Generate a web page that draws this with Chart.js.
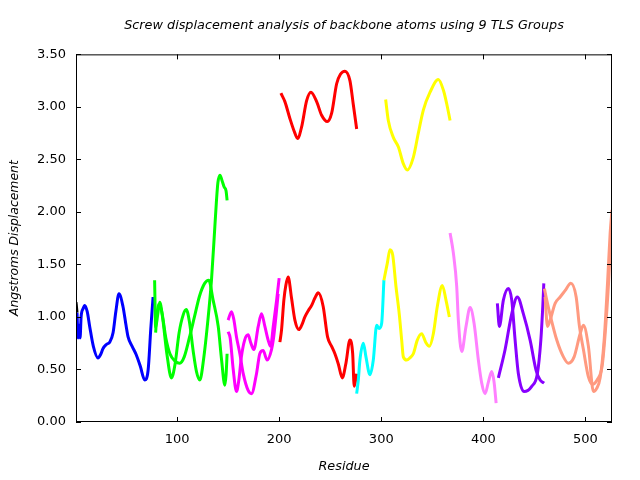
<!DOCTYPE html>
<html>
<head>
<meta charset="utf-8">
<title>Screw displacement analysis</title>
<script src="https://cdn.jsdelivr.net/npm/chart.js@4.4.1/dist/chart.umd.min.js"></script>
<style>
  html, body { margin: 0; padding: 0; background: #ffffff; }
</style>
</head>
<body>
<canvas id="screw-chart" width="640" height="480"></canvas>
<script>
// Screw displacement per residue, one pair of arrays per traced curve

const blackRes = [1, 2];
const blackDisp = [1.14, 1.04];

const blueRes = [2, 3, 4, 5, 6, 8, 9.5, 12, 14.4, 18, 22.5, 25, 27.5, 31, 34, 37.3, 40, 43.1, 47, 50, 52, 56, 60, 64, 68.3, 71.6, 74.2, 76.5];
const blueDisp = [1.04, 0.80, 0.92, 0.80, 1.00, 1.08, 1.11, 1.05, 0.91, 0.72, 0.61, 0.64, 0.70, 0.74, 0.76, 0.85, 1.05, 1.22, 1.10, 0.92, 0.81, 0.72, 0.64, 0.53, 0.40, 0.49, 0.88, 1.19];

const greenRes1 = [78, 79, 81, 83, 86, 90, 94.5, 98, 102, 106, 109, 112, 116, 119, 122.3, 126, 130, 133.7, 137, 138.6, 140, 142, 144, 146, 148, 149];
const greenDisp1 = [1.35, 0.90, 1.02, 1.14, 0.98, 0.65, 0.42, 0.55, 0.85, 1.02, 1.07, 0.96, 0.66, 0.48, 0.40, 0.60, 0.95, 1.35, 1.86, 2.11, 2.28, 2.35, 2.30, 2.24, 2.20, 2.11];
const greenRes2 = [79, 80, 82, 85, 89, 93, 98, 102.6, 107, 112, 117, 122, 127, 131, 135.3, 140.3, 143.6, 146.8, 148, 149];
const greenDisp2 = [0.85, 1.00, 1.12, 1.05, 0.80, 0.65, 0.58, 0.56, 0.62, 0.80, 1.00, 1.20, 1.32, 1.35, 1.16, 0.91, 0.59, 0.35, 0.45, 0.65];

const magentaRes1 = [150, 153.3, 155.5, 158.2, 161.5, 164.8, 169.6, 172.9, 177.8, 181, 184.3, 188.2, 192.5, 194.5, 197, 199];
const magentaDisp1 = [0.97, 1.05, 0.98, 0.81, 0.65, 0.46, 0.30, 0.27, 0.46, 0.65, 0.68, 0.59, 0.69, 0.80, 1.02, 1.22];
const magentaRes2 = [150, 152, 155, 158.2, 160.5, 163, 166.2, 169.6, 172, 175.2, 179.5, 182.7, 186, 189.2, 191.6, 194.2, 197.5, 200];
const magentaDisp2 = [0.86, 0.80, 0.50, 0.29, 0.40, 0.62, 0.78, 0.83, 0.76, 0.69, 0.91, 1.03, 0.91, 0.78, 0.72, 0.91, 1.16, 1.37];

const redResLow = [200.7, 202.3, 204.6, 206.5, 208.8, 212.1, 215.4, 219.3, 222, 225.2, 228.5, 231.8, 235, 238.3, 243.1, 247.4, 251.4, 254.6, 258, 261.8, 265.4, 269.3, 272, 273.5, 275.9];
const redDispLow = [0.76, 0.875, 1.16, 1.30, 1.38, 1.18, 0.97, 0.88, 0.92, 1.00, 1.06, 1.11, 1.18, 1.23, 1.10, 0.81, 0.72, 0.65, 0.55, 0.42, 0.56, 0.78, 0.65, 0.34, 0.46];
const redResHigh = [201.7, 205.6, 210.5, 215.4, 218, 222, 226.9, 231.1, 236.7, 241.6, 247.1, 251.4, 256.3, 260, 264.4, 269.3, 272.5, 275.9];
const redDispHigh = [3.13, 3.05, 2.89, 2.75, 2.70, 2.81, 3.06, 3.14, 3.05, 2.92, 2.86, 2.94, 3.22, 3.31, 3.34, 3.25, 3.03, 2.79];

const cyanRes = [275.9, 277.5, 279.1, 282.4, 285, 288.9, 292.2, 295.5, 298, 300.4, 302.6];
const cyanDisp = [0.27, 0.40, 0.59, 0.75, 0.62, 0.45, 0.59, 0.92, 0.89, 0.94, 1.35];

const yellowResLow = [302.6, 303.6, 305.9, 308.5, 311.2, 314.4, 317.6, 320, 321.6, 324.9, 328, 331.4, 335.3, 339.6, 343.5, 347.1, 351, 354.9, 359.8, 363.4, 366.7];
const yellowDispLow = [1.35, 1.40, 1.51, 1.64, 1.59, 1.29, 1.03, 0.78, 0.62, 0.59, 0.61, 0.65, 0.78, 0.84, 0.76, 0.72, 0.84, 1.10, 1.30, 1.16, 1.00];
const yellowResHigh = [304.3, 306.9, 311.8, 316.7, 321.6, 325.5, 331.4, 336.3, 341.2, 347.8, 355.9, 360.8, 364.1, 367.4];
const yellowDispHigh = [3.07, 2.87, 2.71, 2.62, 2.46, 2.40, 2.52, 2.75, 2.97, 3.14, 3.26, 3.16, 3.03, 2.87];

const pinkRes = [367.4, 370.6, 373.9, 375.5, 378.8, 383, 387, 390.9, 395.1, 398.4, 401.7, 404.9, 408.2, 410.5, 412.5];
const pinkDisp = [1.80, 1.61, 1.29, 0.97, 0.67, 0.91, 1.09, 0.94, 0.59, 0.37, 0.27, 0.38, 0.48, 0.38, 0.18];

const purpleRes1 = [413.7, 415.7, 419.6, 424.5, 427.8, 431.1, 434.3, 439.9, 447.4, 452.9, 456.3, 458.2, 459.2];
const purpleDisp1 = [1.13, 0.91, 1.16, 1.27, 1.16, 0.78, 0.46, 0.29, 0.34, 0.46, 0.78, 1.10, 1.32];
const purpleRes2 = [414.7, 421.3, 427.8, 433.3, 439.2, 445.8, 451.7, 455.6, 459.5];
const purpleDisp2 = [0.42, 0.69, 1.03, 1.19, 1.03, 0.78, 0.49, 0.40, 0.37];

const salmonRes1 = [459.8, 462.1, 465.4, 471.9, 478.4, 483.3, 488.9, 494.8, 498, 502.9, 507.8, 511, 514.4, 518.3, 521.6, 524.2, 526];
const salmonDisp1 = [1.27, 1.16, 1.02, 0.78, 0.62, 0.56, 0.62, 0.84, 0.92, 0.72, 0.29, 0.32, 0.42, 0.78, 1.32, 1.80, 2.02];
const salmonRes2 = [460.5, 462.8, 465.4, 470.3, 475.2, 480, 485.7, 490.9, 494.1, 498, 502.9, 507, 511.4, 516.3, 519.3, 522.6, 525.9];
const salmonDisp2 = [1.19, 0.91, 0.97, 1.13, 1.19, 1.25, 1.32, 1.19, 0.91, 0.69, 0.43, 0.36, 0.40, 0.53, 0.84, 1.32, 1.95];

const xTickValues = [100, 200, 300, 400, 500];
const yTickValues = [0, 0.5, 1, 1.5, 2, 2.5, 3, 3.5];

const FONT = 'DejaVu Sans';

const curves = [
    { res: blackRes, disp: blackDisp, color: '#000000' },
    { res: blueRes, disp: blueDisp, color: '#0000ff' },
    { res: greenRes1, disp: greenDisp1, color: '#00ff00' },
    { res: greenRes2, disp: greenDisp2, color: '#00ff00' },
    { res: magentaRes1, disp: magentaDisp1, color: '#ff00ff' },
    { res: magentaRes2, disp: magentaDisp2, color: '#ff00ff' },
    { res: redResLow, disp: redDispLow, color: '#ff0000' },
    { res: redResHigh, disp: redDispHigh, color: '#ff0000' },
    { res: cyanRes, disp: cyanDisp, color: '#00ffff' },
    { res: yellowResLow, disp: yellowDispLow, color: '#ffff00' },
    { res: yellowResHigh, disp: yellowDispHigh, color: '#ffff00' },
    { res: pinkRes, disp: pinkDisp, color: '#ff80ff' },
    { res: purpleRes1, disp: purpleDisp1, color: '#8800ff' },
    { res: purpleRes2, disp: purpleDisp2, color: '#8800ff' },
    { res: salmonRes1, disp: salmonDisp1, color: '#ff9a80' },
    { res: salmonRes2, disp: salmonDisp2, color: '#ff9a80' }
];

// gnuplot style frame: box border with inward ticks on all four sides
const frameTicks = {
    id: 'frameTicks',
    afterDatasetsDraw(chart) {
        const { ctx, chartArea: a, scales } = chart;
        const len = 5;
        ctx.save();
        ctx.strokeStyle = '#000000';
        ctx.lineWidth = 1;
        ctx.strokeRect(a.left + 0.5, a.top + 0.5, a.right - a.left - 1, a.bottom - a.top - 1);
        ctx.beginPath();
        scales.x.ticks.forEach(t => {
            const px = Math.round(scales.x.getPixelForValue(t.value)) + 0.5;
            ctx.moveTo(px, a.bottom); ctx.lineTo(px, a.bottom - len);
            ctx.moveTo(px, a.top); ctx.lineTo(px, a.top + len);
        });
        scales.y.ticks.forEach(t => {
            const py = Math.round(scales.y.getPixelForValue(t.value)) + 0.5;
            ctx.moveTo(a.left, py); ctx.lineTo(a.left + len, py);
            ctx.moveTo(a.right, py); ctx.lineTo(a.right - len, py);
        });
        ctx.stroke();
        ctx.restore();
    }
};

const ctx = document.getElementById('screw-chart').getContext('2d');
new Chart(ctx, {
    type: 'scatter',
    data: {
        datasets: curves.map((c, i) => ({
            data: c.res.map((r, j) => ({ x: r, y: c.disp[j] })),
            showLine: true,
            borderColor: c.color,
            backgroundColor: c.color,
            borderWidth: 3,
            pointRadius: 0,
            pointHoverRadius: 0,
            cubicInterpolationMode: 'monotone',
            fill: false,
            order: -i
        }))
    },
    options: {
        responsive: false,
        animation: false,
        layout: { padding: { top: 0, right: 28, bottom: 0, left: 0 } },
        plugins: {
            legend: { display: false },
            tooltip: { enabled: false },
            title: {
                display: true,
                text: 'Screw displacement analysis of backbone atoms using 9 TLS Groups',
                color: '#000000',
                fullSize: false,
                font: { family: FONT, size: 12.8, style: 'italic', weight: 'normal' },
                padding: { top: 18, bottom: 21 }
            }
        },
        scales: {
            x: {
                type: 'linear',
                min: 1,
                max: 526,
                grid: { display: false, drawTicks: false },
                border: { display: false },
                afterBuildTicks: scale => { scale.ticks = xTickValues.map(v => ({ value: v })); },
                afterFit: scale => { scale.height = 58; },
                ticks: {
                    color: '#000000',
                    padding: 10,
                    maxRotation: 0,
                    font: { family: FONT, size: 13 }
                },
                title: {
                    display: true,
                    text: 'Residue',
                    color: '#000000',
                    font: { family: FONT, size: 12.8, style: 'italic' },
                    padding: { top: 0, bottom: 6 }
                }
            },
            y: {
                type: 'linear',
                min: 0,
                max: 3.5,
                grid: { display: false, drawTicks: false },
                border: { display: false },
                afterBuildTicks: scale => { scale.ticks = yTickValues.map(v => ({ value: v })); },
                afterFit: scale => { scale.width = 76; },
                ticks: {
                    color: '#000000',
                    padding: 10,
                    font: { family: FONT, size: 13 },
                    callback: v => Number(v).toFixed(2)
                },
                title: {
                    display: true,
                    text: 'Angstroms Displacement',
                    color: '#000000',
                    font: { family: FONT, size: 12.4, style: 'italic' },
                    padding: { top: 7, bottom: 0 }
                }
            }
        }
    },
    plugins: [frameTicks]
});
</script>
</body>
</html>
